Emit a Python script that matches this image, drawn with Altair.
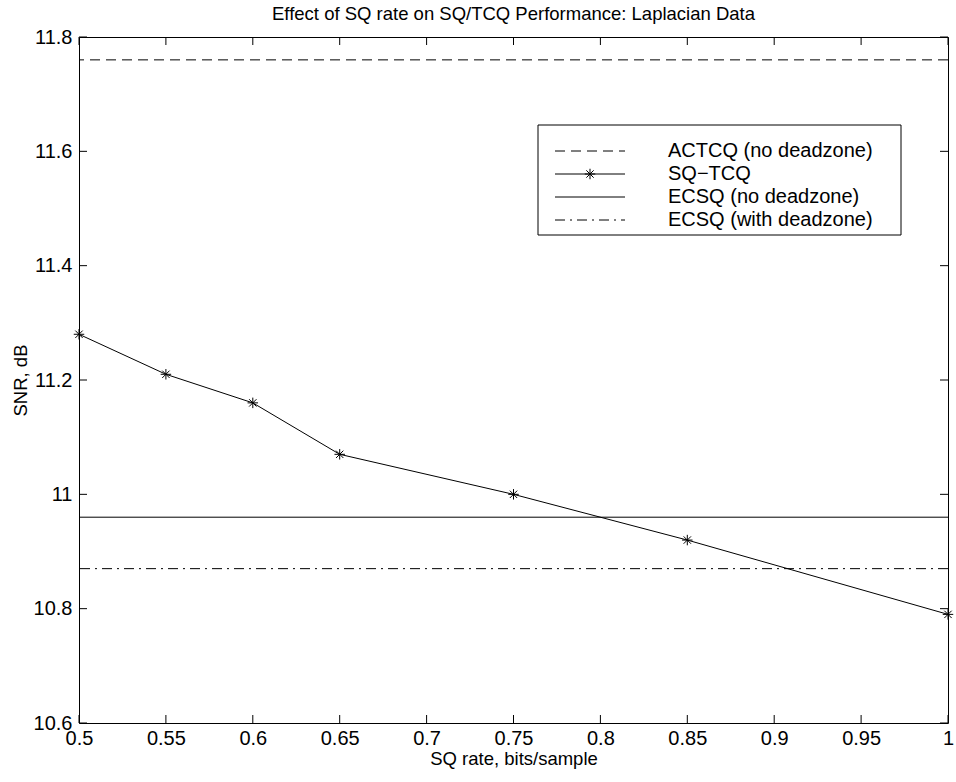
import altair as alt
import pandas as pd

rates = [0.5, 0.55, 0.6, 0.65, 0.75, 0.85, 1.0]
sq_tcq = [11.28, 11.21, 11.16, 11.07, 11.00, 10.92, 10.79]
actcq_level = 11.76
ecsq_no_dz = 10.96
ecsq_dz = 10.87
x_ticks = [0.5, 0.55, 0.6, 0.65, 0.7, 0.75, 0.8, 0.85, 0.9, 0.95, 1.0]
y_ticks = [10.6, 10.8, 11.0, 11.2, 11.4, 11.6, 11.8]
legend_labels = ["ACTCQ (no deadzone)", "SQ\u2212TCQ", "ECSQ (no deadzone)", "ECSQ (with deadzone)"]

W, H = 869, 686
FONT = "Liberation Sans"
ASTERISK = "M-1,0L1,0M0,-1L0,1M-0.7,-0.7L0.7,0.7M-0.7,0.7L0.7,-0.7"

df = pd.DataFrame({"rate": rates, "snr": sq_tcq})
xs = alt.Scale(domain=[0.5, 1.0], nice=False, zero=False)
ys = alt.Scale(domain=[10.6, 11.8], nice=False, zero=False)

xaxis = alt.Axis(values=x_ticks, format="~g", tickSize=0, domain=False, grid=False,
                 labelFont=FONT, labelFontSize=20, labelColor="black", labelPadding=5,
                 labelFlush=False, labelOverlap=False,
                 title="SQ rate, bits/sample", titleFont=FONT, titleFontSize=18.5,
                 titleFontWeight="normal", titleColor="black", titlePadding=1)
yaxis = alt.Axis(values=y_ticks, format="~g", tickSize=0, domain=False, grid=False,
                 labelFont=FONT, labelFontSize=20, labelColor="black", labelPadding=7,
                 labelFlush=False, labelOverlap=False,
                 title="SNR, dB", titleFont=FONT, titleFontSize=18.5,
                 titleFontWeight="normal", titleColor="black", titlePadding=3)

base = alt.Chart(df)

line = base.mark_line(color="black", strokeWidth=1).encode(
    x=alt.X("rate:Q", scale=xs, axis=xaxis),
    y=alt.Y("snr:Q", scale=ys, axis=yaxis),
)
pts = base.mark_point(shape=ASTERISK, size=110, filled=False, color="black",
                      strokeWidth=1, opacity=1).encode(
    x=alt.X("rate:Q", scale=xs), y=alt.Y("snr:Q", scale=ys))

def hrule(level, dash):
    kw = {"strokeDash": dash} if dash else {}
    return alt.Chart(pd.DataFrame({"v": [level]})).mark_rule(
        color="black", strokeWidth=1, **kw).encode(y=alt.Y("v:Q", scale=ys))

r_act = hrule(actcq_level, [10, 6])
r_ecsq = hrule(ecsq_no_dz, None)
r_ecsq_dz = hrule(ecsq_dz, [10, 5, 2, 5])

xt = alt.Chart(pd.DataFrame({"t": x_ticks}))
yt = alt.Chart(pd.DataFrame({"t": y_ticks}))
tb = xt.mark_rule(color="black", strokeWidth=1).encode(
    x=alt.X("t:Q", scale=xs), y=alt.value(H), y2=alt.value(H - 8))
tt = xt.mark_rule(color="black", strokeWidth=1).encode(
    x=alt.X("t:Q", scale=xs), y=alt.value(0), y2=alt.value(8))
tl = yt.mark_rule(color="black", strokeWidth=1).encode(
    y=alt.Y("t:Q", scale=ys), x=alt.value(0), x2=alt.value(8))
tr = yt.mark_rule(color="black", strokeWidth=1).encode(
    y=alt.Y("t:Q", scale=ys), x=alt.value(W), x2=alt.value(W - 8))

# manual legend
one = alt.Chart(pd.DataFrame({"a": [0]}))
box = one.mark_rect(fill="white", stroke="black", strokeWidth=1).encode(
    x=alt.value(459), x2=alt.value(822), y=alt.value(88), y2=alt.value(198))
row_y = [114, 137, 160, 183]
dashes = [[10, 6], None, None, [10, 5, 2, 5]]
leg = [box]
for i, lab in enumerate(legend_labels):
    kw = {"strokeDash": dashes[i]} if dashes[i] else {}
    leg.append(one.mark_rule(color="black", strokeWidth=1, **kw).encode(
        x=alt.value(476), x2=alt.value(546), y=alt.value(row_y[i])))
    leg.append(alt.Chart(pd.DataFrame({"lab": [lab]})).mark_text(
        align="left", baseline="middle", font=FONT, fontSize=20, color="black").encode(
        x=alt.value(589), y=alt.value(row_y[i]), text="lab:N"))
leg.append(one.mark_point(shape=ASTERISK, size=110, filled=False, color="black",
                          strokeWidth=1, opacity=1).encode(
    x=alt.value(511), y=alt.value(row_y[1])))

chart = alt.layer(r_act, r_ecsq, r_ecsq_dz, line, pts, tb, tt, tl, tr, *leg).properties(
    width=W, height=H,
    title=alt.TitleParams("Effect of SQ rate on SQ/TCQ Performance: Laplacian Data",
                          font=FONT, fontSize=18.5, fontWeight="normal", color="black",
                          anchor="middle", offset=4),
    padding={"left": 79, "top": 37, "right": 8, "bottom": 59},
    autosize=alt.AutoSizeParams(type="none"),
    background="white",
).configure_view(stroke="black", strokeWidth=1)

chart.save("out.html", embed_options={"renderer": "svg", "actions": False})
